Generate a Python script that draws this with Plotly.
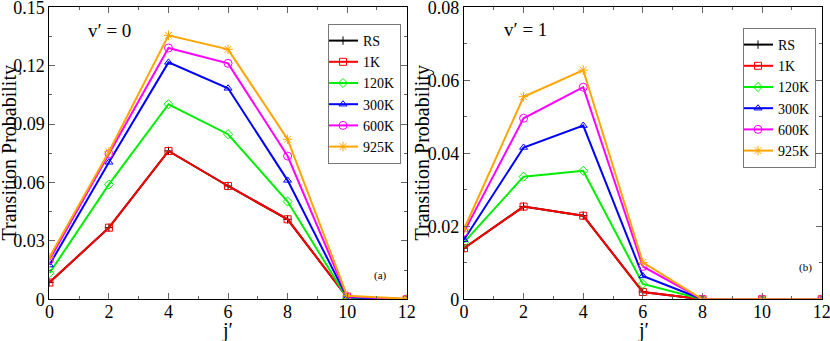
import plotly.graph_objects as go

j = [0, 2, 4, 6, 8, 10, 12]
series_names = ["RS", "1K", "120K", "300K", "600K", "925K"]

# v' = 0
v0_RS = [0.0086, 0.0368, 0.0762, 0.0582, 0.0411, 0.0010, 0.0]
v0_1K = [0.0086, 0.0368, 0.0762, 0.0582, 0.0411, 0.0010, 0.0]
v0_120K = [0.0134, 0.0590, 0.1002, 0.0848, 0.0502, 0.0005, 0.0]
v0_300K = [0.0176, 0.0704, 0.1217, 0.1084, 0.0611, 0.0010, 0.0]
v0_600K = [0.0202, 0.0747, 0.1291, 0.1212, 0.0736, 0.0015, 0.0]
v0_925K = [0.0216, 0.0758, 0.1356, 0.1284, 0.0822, 0.0018, 0.0003]

# v' = 1
v1_RS = [0.0140, 0.0254, 0.0229, 0.0020, 0.0, 0.0, 0.0]
v1_1K = [0.0140, 0.0254, 0.0229, 0.0020, 0.0, 0.0, 0.0]
v1_120K = [0.0156, 0.0336, 0.0352, 0.0042, 0.0, 0.0, 0.0]
v1_300K = [0.0163, 0.0416, 0.0476, 0.0064, 0.0, 0.0, 0.0]
v1_600K = [0.0184, 0.0496, 0.0581, 0.0090, 0.0, 0.0, 0.0]
v1_925K = [0.0192, 0.0555, 0.0628, 0.0101, 0.0, 0.0, 0.0]

y0_ticks = [0, 0.03, 0.06, 0.09, 0.12, 0.15]
y0_labels = ["0", "0.03", "0.06", "0.09", "0.12", "0.15"]
y1_ticks = [0, 0.02, 0.04, 0.06, 0.08]
y1_labels = ["0", "0.02", "0.04", "0.06", "0.08"]

colors = ["#000000", "#ff0000", "#00ee00", "#0000ff", "#ff00ff", "#ffa500"]
symbols = ["cross-thin-open", "square-open", "diamond-open", "triangle-up-open",
           "circle-open", "asterisk-open"]
sizes = [6, 7, 7, 7, 8, 8]

panel0 = [v0_RS, v0_1K, v0_120K, v0_300K, v0_600K, v0_925K]
panel1 = [v1_RS, v1_1K, v1_120K, v1_300K, v1_600K, v1_925K]

FONT = "Liberation Serif, DejaVu Serif, serif"
fig = go.Figure()

for data, xa, ya, lg in [(panel0, "x", "y", "legend"), (panel1, "x2", "y2", "legend2")]:
    for name, vals, c, s, sz in zip(series_names, data, colors, symbols, sizes):
        fig.add_trace(go.Scatter(
            x=j, y=vals, name=name, mode="lines+markers",
            line=dict(color=c, width=2),
            marker=dict(symbol=s, size=sz, color=c, line=dict(color=c, width=1)),
            xaxis=xa, yaxis=ya, legend=lg, showlegend=True,
        ))

axis_common = dict(
    showline=True, linecolor="#000000", linewidth=1, mirror="ticks",
    ticks="inside", ticklen=6, tickcolor="#666666", tickwidth=1,
    showgrid=False, zeroline=False, automargin=False,
    ticklabeloverflow="allow",
    tickfont=dict(family=FONT, size=18, color="#000"),
)
minor_common = dict(ticks="inside", ticklen=3, tickcolor="#666666", tickwidth=1, showgrid=False)

legend_common = dict(xanchor="left", yanchor="top",
                     bordercolor="#777777", borderwidth=1, bgcolor="white",
                     font=dict(family=FONT, size=14), tracegroupgap=0,
                     itemwidth=30, indentation=-6)

fig.update_layout(
    width=830, height=341,
    margin=dict(l=0, r=0, t=0, b=0, autoexpand=False),
    paper_bgcolor="white", plot_bgcolor="white",
    font=dict(family=FONT, color="#000"),
    xaxis=dict(domain=[0.0595, 0.490], range=[0, 12], tickvals=j,
               minor=dict(dtick=1, **minor_common), ticklabelstandoff=-4,
               anchor="y", **axis_common),
    yaxis=dict(domain=[0.1223, 0.9786], range=[0, 0.15],
               tickvals=y0_ticks, ticktext=y0_labels,
               minor=dict(dtick=0.015, **minor_common),
               anchor="x", **axis_common),
    xaxis2=dict(domain=[0.559, 0.990], range=[0, 12], tickvals=j,
                minor=dict(dtick=1, **minor_common), ticklabelstandoff=-4,
                anchor="y2", **axis_common),
    yaxis2=dict(domain=[0.1223, 0.9786], range=[0, 0.08],
                tickvals=y1_ticks, ticktext=y1_labels,
                minor=dict(dtick=0.01, **minor_common),
                anchor="x2", **axis_common),
    legend=dict(x=328 / 830, y=1 - 24 / 341, **legend_common),
    legend2=dict(x=743 / 830, y=1 - 28 / 341, **legend_common),
    annotations=[
        dict(text="Transition Probability", x=9 / 830, y=0.55, xref="paper", yref="paper",
             textangle=-90, showarrow=False, xanchor="center", yanchor="middle",
             font=dict(family=FONT, size=20)),
        dict(text="Transition Probability", x=422 / 830, y=0.55, xref="paper", yref="paper",
             textangle=-90, showarrow=False, xanchor="center", yanchor="middle",
             font=dict(family=FONT, size=20)),
        dict(text="j′", x=227 / 830, y=1 - 330 / 341, xref="paper", yref="paper",
             showarrow=False, xanchor="center", yanchor="middle",
             font=dict(family=FONT, size=20)),
        dict(text="j′", x=643 / 830, y=1 - 330 / 341, xref="paper", yref="paper",
             showarrow=False, xanchor="center", yanchor="middle",
             font=dict(family=FONT, size=20)),
        dict(text="v′ = 0", x=86 / 830, y=1 - 30 / 341, xref="paper", yref="paper",
             showarrow=False, xanchor="left", yanchor="middle",
             font=dict(family=FONT, size=19)),
        dict(text="v′ = 1", x=502 / 830, y=1 - 29 / 341, xref="paper", yref="paper",
             showarrow=False, xanchor="left", yanchor="middle",
             font=dict(family=FONT, size=19)),
        dict(text="(a)", x=380 / 830, y=1 - 275 / 341, xref="paper", yref="paper",
             showarrow=False, xanchor="center", yanchor="middle",
             font=dict(family=FONT, size=11)),
        dict(text="(b)", x=805 / 830, y=1 - 267 / 341, xref="paper", yref="paper",
             showarrow=False, xanchor="center", yanchor="middle",
             font=dict(family=FONT, size=11)),
    ],
)

fig.write_html("out.html", config={"displayModeBar": False},
               post_script="document.body.style.margin='0';document.body.style.overflow='hidden';")
